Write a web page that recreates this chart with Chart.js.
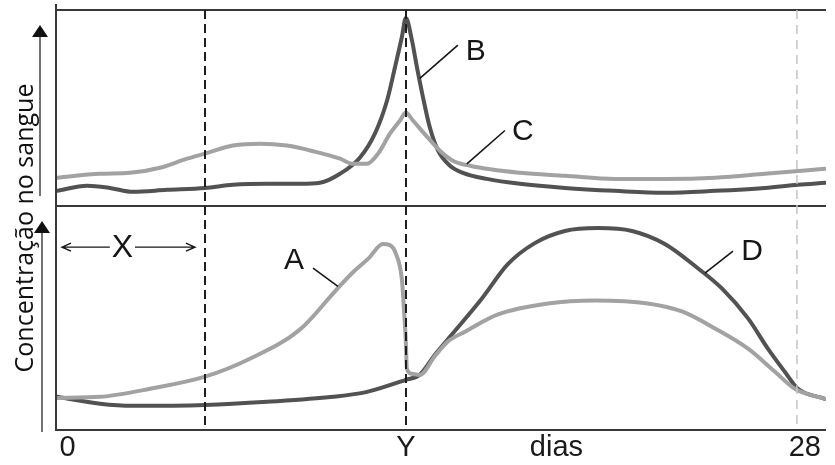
<!DOCTYPE html>
<html lang="pt">
  <head>
    <meta charset="UTF-8" />
    <title>Concentração no sangue</title>
    <style>
      body { margin: 0; background: #ffffff; }
      .chart { width: 835px; height: 465px; }
    </style>
    <script src="https://cdn.jsdelivr.net/npm/chart.js"></script>
  </head>
  <body>
    <div class="chart"><canvas id="myChart"></canvas></div>
    <script>
      // curvas do painel de cima (B escura, C clara)
      const bDays = [0, 1.14, 2.0, 2.88, 4.16, 5.6, 6.66, 7.95, 9.19, 9.95, 10.71, 11.46, 12.03, 12.49, 12.79, 13.05, 13.2, 13.43, 13.62, 13.85, 14.11, 14.42, 14.87, 15.36, 16.27, 17.52, 19.22, 21.11, 23.0, 24.9, 26.79, 28.04, 29.06];
      const bValues = [7.7, 10.3, 9.2, 7.2, 8.2, 9.2, 10.8, 11.3, 11.3, 11.8, 16.4, 24.6, 36.9, 53.8, 70.8, 86.2, 95.9, 84.6, 70.8, 55.4, 40, 28.2, 20.5, 16.9, 13.8, 11.3, 9.2, 7.7, 6.7, 7.7, 9.2, 10.8, 11.8];
      const cDays = [0, 1.63, 2.76, 3.9, 4.92, 5.6, 6.66, 7.68, 8.7, 9.76, 10.71, 11.2, 11.73, 12.15, 12.6, 12.98, 13.2, 13.47, 14.0, 14.49, 14.98, 15.63, 17.52, 19.22, 21.11, 23.0, 24.9, 26.79, 29.06];
      const cValues = [14.4, 16.4, 16.9, 19.5, 24.1, 26.7, 30.8, 31.8, 30.8, 27.7, 24.1, 21.5, 21.5, 26.7, 36.9, 43.6, 47.7, 43.6, 35.4, 28.2, 23.1, 20.5, 16.9, 15.4, 13.8, 13.8, 14.4, 16.4, 19.0];

      // curvas do painel de baixo (A clara, D escura)
      const aDays = [0, 1.63, 3.52, 5.6, 7.3, 9.19, 10.52, 11.2, 11.8, 12.33, 12.6, 12.83, 13.05, 13.13, 13.2, 13.24, 13.43, 13.73, 14.3, 14.79, 15.44, 16.69, 18.58, 20.36, 22.36, 23.65, 24.9, 26.15, 27.17, 27.92, 29.06];
      const aValues = [14.3, 14.8, 18.4, 23.8, 31.8, 44.8, 61.9, 70.4, 76.7, 83.0, 82.5, 78.5, 67.3, 53.8, 39.5, 27.4, 25.1, 24.6, 33.0, 39.5, 43.9, 51.6, 56.5, 57.8, 56.5, 52.9, 45.3, 36.3, 26.0, 18.4, 13.9];
      const dDays = [0, 1.63, 2.88, 5.6, 7.95, 10.44, 11.73, 13.2, 13.73, 14.3, 14.94, 16.08, 17.06, 18.08, 19.22, 20.47, 21.76, 23.0, 24.25, 25.16, 26.15, 26.9, 27.54, 28.04, 29.06];
      const dValues = [14.8, 11.7, 10.8, 11.2, 12.6, 14.8, 17.0, 22.4, 24.7, 33.6, 42.6, 58.7, 74.0, 83.4, 88.8, 90.1, 88.8, 83.0, 72.2, 63.2, 49.8, 36.3, 26.0, 18.4, 13.9];

      // eixo x
      const tickDays = [0.4, 13.2, 18.9, 28.3];
      const tickLabels = ["0", "Y", "dias", "28"];
      const markDays = [5.6, 13.2];
      const lastDay = 28;

      // rótulos das curvas: [texto, painel, dia, valor, linha de/até]
      const curveLabels = [
        ["B", "yTop", 15.85, 79, [13.73, 65.1, 15.17, 82.1]],
        ["C", "yTop", 17.63, 38.5, [15.51, 21.5, 16.95, 38.5]],
        ["A", "yLow", 8.97, 76.2, [9.69, 72.2, 10.63, 64.1]],
        ["D", "yLow", 26.3, 79.8, [24.52, 70.0, 25.58, 79.8]]
      ];
      const xSpan = [0.19, 2.0, 2.95, 5.22, 81.6];

      const dark = "#525252";
      const light = "#a2a2a2";
      const toPoints = (xs, ys) => xs.map((x, i) => ({ x, y: ys[i] }));

      function arrowUp(ctx, x, y0, y1) {
        ctx.beginPath();
        ctx.moveTo(x, y0);
        ctx.lineTo(x, y1 + 8);
        ctx.stroke();
        ctx.beginPath();
        ctx.moveTo(x, y1);
        ctx.lineTo(x - 8, y1 + 12);
        ctx.lineTo(x + 8, y1 + 12);
        ctx.closePath();
        ctx.fill();
      }

      function openArrow(ctx, x0, x1, y) {
        const d = x1 > x0 ? -1 : 1;
        ctx.beginPath();
        ctx.moveTo(x0, y);
        ctx.lineTo(x1, y);
        ctx.moveTo(x1 + d * 9, y - 4);
        ctx.lineTo(x1, y);
        ctx.lineTo(x1 + d * 9, y + 4);
        ctx.stroke();
      }

      const decor = {
        id: "decor",
        beforeDatasetsDraw(chart) {
          const { ctx, scales: { x, yTop, yLow } } = chart;
          ctx.save();
          ctx.strokeStyle = "#383838";
          ctx.lineWidth = 2;
          ctx.beginPath();
          [yTop.top, yTop.bottom, yLow.bottom].forEach((y) => {
            ctx.moveTo(x.left, y);
            ctx.lineTo(x.right, y);
          });
          ctx.moveTo(x.left - 1, yTop.top - 6);
          ctx.lineTo(x.left - 1, yLow.bottom + 1);
          ctx.stroke();
          // eixo y com setas
          ctx.fillStyle = "#111";
          ctx.strokeStyle = "#444";
          ctx.lineWidth = 1.5;
          arrowUp(ctx, 40, yTop.bottom - 10, yTop.top + 15);
          arrowUp(ctx, 42, yLow.bottom + 2, yLow.top + 15);
          ctx.restore();
        },
        afterDatasetsDraw(chart) {
          const { ctx, scales: { x, yTop, yLow } } = chart;
          ctx.save();
          // linhas tracejadas
          ctx.lineWidth = 2;
          ctx.strokeStyle = "#1e1e1e";
          ctx.setLineDash([9, 5]);
          markDays.forEach((d) => {
            const px = Math.round(x.getPixelForValue(d));
            ctx.beginPath();
            ctx.moveTo(px, yTop.top);
            ctx.lineTo(px, yLow.bottom);
            ctx.stroke();
          });
          ctx.strokeStyle = "#c4c4c4";
          ctx.lineWidth = 1.5;
          ctx.setLineDash([9, 6]);
          const p28 = x.getPixelForValue(lastDay);
          ctx.beginPath();
          ctx.moveTo(p28, yTop.top);
          ctx.lineTo(p28, yLow.bottom);
          ctx.stroke();
          ctx.setLineDash([]);

          // rótulos A-D
          ctx.fillStyle = "#161616";
          ctx.strokeStyle = "#161616";
          ctx.lineWidth = 1.6;
          ctx.font = "30px 'Liberation Sans', Arial, sans-serif";
          ctx.textAlign = "center";
          ctx.textBaseline = "middle";
          curveLabels.forEach(([t, axis, d, v, seg]) => {
            const ys = chart.scales[axis];
            ctx.fillText(t, x.getPixelForValue(d), ys.getPixelForValue(v) + 1);
            ctx.beginPath();
            ctx.moveTo(x.getPixelForValue(seg[0]), ys.getPixelForValue(seg[1]));
            ctx.lineTo(x.getPixelForValue(seg[2]), ys.getPixelForValue(seg[3]));
            ctx.stroke();
          });

          // X com setas
          const yx = yLow.getPixelForValue(xSpan[4]);
          ctx.font = "32px 'Liberation Sans', Arial, sans-serif";
          ctx.fillText("X", x.getPixelForValue((xSpan[1] + xSpan[2]) / 2), yx + 1);
          ctx.lineWidth = 1.4;
          openArrow(ctx, x.getPixelForValue(xSpan[1]), x.getPixelForValue(xSpan[0]), yx);
          openArrow(ctx, x.getPixelForValue(xSpan[2]), x.getPixelForValue(xSpan[3]), yx);

          // título do eixo y
          ctx.translate(33, (yTop.top + yLow.bottom) / 2 + 8);
          ctx.rotate(-Math.PI / 2);
          ctx.font = "25px 'Open Sans', sans-serif";
          ctx.textBaseline = "alphabetic";
          ctx.fillStyle = "#111";
          ctx.fillText("Concentração no sangue", 0, 0);
          ctx.restore();
        }
      };

      const lineStyle = {
        pointRadius: 0,
        borderWidth: 4,
        fill: false,
        cubicInterpolationMode: "monotone",
        borderCapStyle: "round",
        borderJoinStyle: "round"
      };

      const config = {
        type: "line",
        data: {
          datasets: [
            { label: "C", data: toPoints(cDays, cValues), yAxisID: "yTop", borderColor: light, ...lineStyle },
            { label: "B", data: toPoints(bDays, bValues), yAxisID: "yTop", borderColor: dark, ...lineStyle },
            { label: "A", data: toPoints(aDays, aValues), yAxisID: "yLow", borderColor: light, ...lineStyle },
            { label: "D", data: toPoints(dDays, dValues), yAxisID: "yLow", borderColor: dark, ...lineStyle }
          ]
        },
        options: {
          responsive: true,
          maintainAspectRatio: false,
          animation: false,
          layout: { padding: { left: 57, top: 10, right: 9, bottom: 0 } },
          plugins: { legend: { display: false }, tooltip: { enabled: false } },
          scales: {
            x: {
              type: "linear",
              min: 0,
              max: 29.1,
              grid: { display: false, drawTicks: false },
              border: { display: false },
              afterBuildTicks: (s) => {
                s.ticks = tickDays.map((v) => ({ value: v }));
              },
              ticks: {
                autoSkip: false,
                maxRotation: 0,
                padding: 3,
                color: "#1a1a1a",
                font: { family: "'Liberation Sans', Arial", size: 29, lineHeight: 1 },
                callback: (v, i) => tickLabels[i]
              }
            },
            yLow: {
              type: "linear",
              position: "left",
              min: 0,
              max: 100,
              stack: "paineis",
              stackWeight: 223,
              ticks: { display: false },
              grid: { display: false, drawTicks: false },
              border: { display: false }
            },
            yTop: {
              type: "linear",
              position: "left",
              min: 0,
              max: 100,
              stack: "paineis",
              stackWeight: 195,
              ticks: { display: false },
              grid: { display: false, drawTicks: false },
              border: { display: false }
            }
          }
        },
        plugins: [decor]
      };
      const myChart = new Chart(document.getElementById("myChart"), config);
    </script>
  </body>
</html>
